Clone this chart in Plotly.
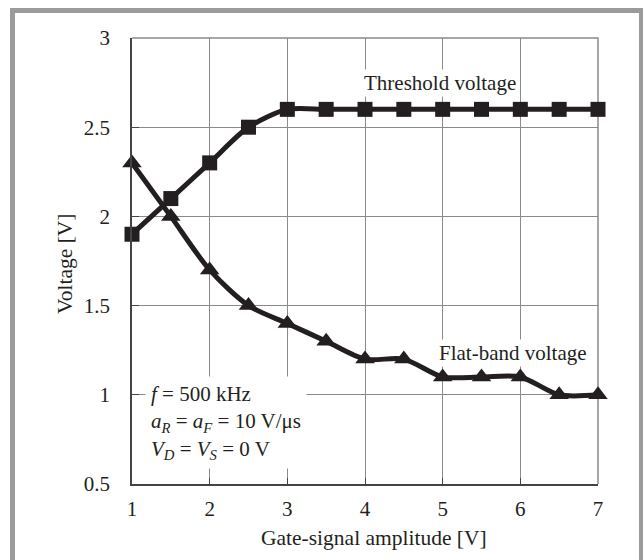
import plotly.graph_objects as go

amplitude = [1, 1.5, 2, 2.5, 3, 3.5, 4, 4.5, 5, 5.5, 6, 6.5, 7]
threshold_voltage = [1.9, 2.1, 2.3, 2.5, 2.6, 2.6, 2.6, 2.6, 2.6, 2.6, 2.6, 2.6, 2.6]
flatband_voltage = [2.3, 2.0, 1.7, 1.5, 1.4, 1.3, 1.2, 1.2, 1.1, 1.1, 1.1, 1.0, 1.0]
x_ticks = [1, 2, 3, 4, 5, 6, 7]
y_ticks = [0.5, 1, 1.5, 2, 2.5, 3]
y_tick_text = ["0.5", "1", "1.5", "2", "2.5", "3"]

INK = "#231f20"
GRID = "#8a8a8a"
FONT = "Liberation Serif"

W, H = 643, 560
L, R, T, B = 132, 45, 38, 76
pw, ph = W - L - R, H - T - B

def px(x):
    return (x - L) / pw

def py(y):
    return (H - B - y) / ph

fig = go.Figure()
fig.add_trace(go.Scatter(
    x=amplitude, y=threshold_voltage, mode="lines+markers",
    line=dict(color=INK, width=5, shape="spline", smoothing=0.8),
    marker=dict(symbol="square", size=15, color=INK),
    showlegend=False, cliponaxis=False))
fig.add_trace(go.Scatter(
    x=amplitude, y=flatband_voltage, mode="lines+markers",
    line=dict(color=INK, width=5, shape="spline", smoothing=0.8),
    marker=dict(symbol="triangle-up", size=17, color=INK),
    showlegend=False, cliponaxis=False))

fig.update_layout(
    width=W, height=H,
    margin=dict(l=L, r=R, t=T, b=B),
    paper_bgcolor="white", plot_bgcolor="white",
    font=dict(family=FONT, size=21, color=INK),
    xaxis=dict(range=[1, 7], tickvals=x_ticks, showgrid=True, gridcolor=GRID, gridwidth=1.3,
               showline=True, linecolor="#444", linewidth=1.5, ticks="inside", ticklen=6,
               tickcolor="#444", zeroline=False, tickfont=dict(size=21),
               ticklabelstandoff=5),
    yaxis=dict(range=[0.5, 3], tickvals=y_ticks, ticktext=y_tick_text, showgrid=True,
               gridcolor=GRID, gridwidth=1.3, showline=True, linecolor="#444", linewidth=1.5,
               ticks="inside", ticklen=7, tickcolor="#444", zeroline=False,
               tickfont=dict(size=21), ticklabelstandoff=16),
)

# axis titles
fig.add_annotation(x=px(374), y=py(538), xref="paper", yref="paper",
                   xanchor="center", yanchor="middle", text="Gate-signal amplitude [V]",
                   showarrow=False, font=dict(family=FONT, size=21.5, color=INK))
fig.add_annotation(x=px(65), y=py(264), xref="paper", yref="paper",
                   xanchor="center", yanchor="middle", text="Voltage [V]", textangle=-90,
                   showarrow=False, font=dict(family=FONT, size=21.5, color=INK))

# top/right plot edges in grid gray
fig.add_shape(type="path", xref="paper", yref="paper",
              path="M 0,1 L 1,1 L 1,0", line=dict(color=GRID, width=1.5), layer="below")

# outer frame (open at bottom)
fl, fr, ft, fb = px(12.5), px(641.5), py(10.5), py(600)
fig.add_shape(type="path", xref="paper", yref="paper",
              path=f"M {fl},{fb} L {fl},{ft} L {fr},{ft} L {fr},{fb}",
              line=dict(color="#9b9b9b", width=5))

fig.add_annotation(x=4.97, y=2.75, xref="x", yref="y", text="Threshold voltage",
                   showarrow=False, bgcolor="white", borderpad=1,
                   font=dict(family=FONT, size=21, color=INK))
fig.add_annotation(x=5.9, y=1.235, xref="x", yref="y", text="Flat-band voltage",
                   showarrow=False, bgcolor="white", borderpad=1,
                   font=dict(family=FONT, size=21, color=INK))
fig.add_annotation(x=px(145), y=py(422), xref="paper", yref="paper",
                   xanchor="left", yanchor="middle", align="left",
                   text="<i>f</i> = 500 kHz<br><i>a<sub>R</sub></i> = <i>a<sub>F</sub></i> = 10 V/μs<br><i>V<sub>D</sub></i> = <i>V<sub>S</sub></i> = 0 V",
                   showarrow=False, bgcolor="white", borderpad=5,
                   font=dict(family=FONT, size=21, color=INK))

fig.write_html("out.html", config={"displayModeBar": False},
               post_script="document.body.style.margin='0';document.body.style.overflow='hidden';")
